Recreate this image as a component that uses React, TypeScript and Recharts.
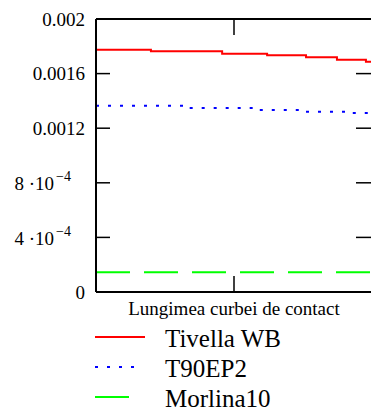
import { LineChart, Line, XAxis, YAxis, Legend } from "recharts";

const FONT = "Tinos, 'Times New Roman', Times, 'Liberation Serif', 'DejaVu Serif', serif";

// step positions along the contact curve (0..1) and values per series
const tivellaX = [0, 0.199, 0.457, 0.62, 0.761, 0.873, 0.978, 1];
const tivellaY = [0.001775, 0.001763, 0.001746, 0.001734, 0.001719, 0.001702, 0.001687, 0.001687];

const t90X = [0, 0.337, 0.583, 0.754, 0.928, 1];
const t90Y = [0.001365, 0.001348, 0.001334, 0.001321, 0.001312, 0.001312];

const morlinaX = [0, 1];
const morlinaY = [0.000145, 0.000145];

const yTicks = [0, 0.0004, 0.0008, 0.0012, 0.0016, 0.002];
const yTickLabels = [
  { base: "0", exp: "" },
  { base: "4 ·10", exp: "−4" },
  { base: "8 ·10", exp: "−4" },
  { base: "0.0012", exp: "" },
  { base: "0.0016", exp: "" },
  { base: "0.002", exp: "" },
];
const xTicks = [0.5];
const xLabel = "Lungimea curbei de contact";

const toPoints = (xs: number[], ys: number[]) => xs.map((x, i) => ({ x, v: ys[i] }));

// all axes share the same domains, so the frame axes (top/right) can carry a series too
const series = [
  { name: "Tivella WB", color: "#ff0000", dash: undefined, sample: 50, xId: "bottom", yId: "left", data: toPoints(tivellaX, tivellaY) },
  { name: "T90EP2", color: "#0000ff", dash: "3 9", sample: 40, xId: "top", yId: "right", data: toPoints(t90X, t90Y) },
  { name: "Morlina10", color: "#00ff00", dash: "34 14", sample: 34, xId: "bottom", yId: "left", data: toPoints(morlinaX, morlinaY) },
];

const txt = { fontFamily: FONT };

const NoTick = () => <g />;

const LeftTick = (props: any) => {
  const { x, y, index } = props;
  const lab = yTickLabels[index] || { base: "", exp: "" };
  if (!lab.exp) {
    return (
      <text x={x} y={y} dy="0.35em" textAnchor="end" style={txt} fontSize={19} fill="#000">
        {lab.base}
      </text>
    );
  }
  return (
    <text x={x - 14} y={y} dy="0.4em" textAnchor="end" style={txt} fontSize={19} fill="#000">
      <tspan>{lab.base}</tspan>
      <tspan dx={2} dy={-9} fontSize={14}>
        {lab.exp}
      </tspan>
    </text>
  );
};

const LegendBox = () => (
  <svg width={371} height={90}>
    {series.map((s, i) => {
      const cy = 16 + i * 30;
      return (
        <g key={s.name}>
          <line x1={95} x2={95 + s.sample} y1={cy} y2={cy} stroke={s.color} strokeWidth={2} strokeDasharray={s.dash} />
          <text x={165} y={cy + 10} style={txt} fontSize={25} fill="#000">
            {s.name}
          </text>
        </g>
      );
    })}
  </svg>
);

const axisLine = { stroke: "#000", strokeWidth: 2 };
const tickLine = { stroke: "#000", strokeWidth: 1.5 };

export default function App() {
  return (
    <div style={{ position: "absolute", left: 0, top: 0, width: 371, height: 411, overflow: "hidden", background: "#fff", fontFamily: FONT }}>
      <LineChart width={400} height={411} margin={{ top: 0, right: 0, bottom: 0, left: 0 }} style={txt}>
        <XAxis
          xAxisId="bottom"
          dataKey="x"
          type="number"
          domain={[0, 1]}
          ticks={xTicks}
          height={29}
          tickSize={-16}
          tick={NoTick}
          axisLine={axisLine}
          tickLine={tickLine}
          label={{ value: xLabel, position: "insideBottom", offset: 6, style: txt, fontSize: 19, fill: "#000" }}
        />
        <XAxis
          xAxisId="top"
          orientation="top"
          dataKey="x"
          type="number"
          domain={[0, 1]}
          ticks={xTicks}
          height={19}
          tickSize={-16}
          tick={NoTick}
          axisLine={axisLine}
          tickLine={tickLine}
        />
        <YAxis
          yAxisId="left"
          type="number"
          domain={[0, 0.002]}
          ticks={yTicks}
          width={96}
          tickSize={-14}
          tickMargin={25}
          tick={LeftTick}
          axisLine={axisLine}
          tickLine={tickLine}
        />
        <YAxis
          yAxisId="right"
          orientation="right"
          type="number"
          domain={[0, 0.002]}
          ticks={yTicks}
          width={28}
          tickSize={-16}
          tick={NoTick}
          axisLine={axisLine}
          tickLine={tickLine}
        />
        <Legend verticalAlign="bottom" layout="horizontal" content={LegendBox} wrapperStyle={{ left: 0, bottom: 0, width: 371, height: 90 }} />
        {series.map((s) => (
          <Line
            key={s.name}
            xAxisId={s.xId}
            yAxisId={s.yId}
            data={s.data}
            dataKey="v"
            name={s.name}
            type="stepAfter"
            stroke={s.color}
            strokeWidth={2}
            strokeDasharray={s.dash}
            dot={false}
            activeDot={false}
            isAnimationActive={false}
          />
        ))}
      </LineChart>
    </div>
  );
}
